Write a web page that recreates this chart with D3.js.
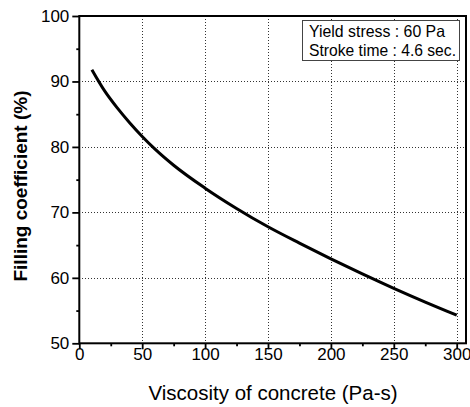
<!DOCTYPE html>
<html>
<head>
<meta charset="utf-8">
<script src="https://cdn.jsdelivr.net/npm/d3@7"></script>
<style>
  body { margin: 0; background: #fff; }
  svg { display: block; font-family: "Liberation Sans", Arial, sans-serif; }
</style>
</head>
<body>
<svg id="chart" width="470" height="407"></svg>
<script>
// Filling coefficient vs. viscosity of concrete
const viscosity = [10, 20, 30, 40, 50, 60, 75, 100, 125, 150, 175, 200, 225, 250, 275, 300];
const filling   = [91.8, 88.6, 86.0, 83.7, 81.6, 79.7, 77.2, 73.7, 70.6, 67.8, 65.3, 62.9, 60.6, 58.4, 56.3, 54.3];
const xTicks = [0, 50, 100, 150, 200, 250, 300];
const yTicks = [50, 60, 70, 80, 90, 100];
const xMinor = [25, 75, 125, 175, 225, 275];
const yMinor = [55, 65, 75, 85, 95];
const legendLines = ["Yield stress : 60 Pa", "Stroke time : 4.6 sec."];

const svg = d3.select("#chart");
const m = { left: 79.3, right: 466, top: 16, bottom: 343.3 };

const x = d3.scaleLinear().domain([0, 300]).range([m.left, 456.7]);
const y = d3.scaleLinear().domain([50, 100]).range([m.bottom, m.top]);
const px = v => Math.round(v) + 0.5;

// dotted grid
const grid = svg.append("g").attr("stroke", "#333").attr("stroke-width", 1)
  .attr("stroke-dasharray", "1,2").attr("shape-rendering", "crispEdges");
grid.selectAll("line.gx").data(xTicks.filter(d => d > 0)).join("line")
  .attr("class", "gx")
  .attr("x1", d => px(x(d))).attr("x2", d => px(x(d)))
  .attr("y1", m.top).attr("y2", m.bottom);
grid.selectAll("line.gy").data(yTicks.filter(d => d > 50 && d < 100)).join("line")
  .attr("class", "gy")
  .attr("y1", d => px(y(d))).attr("y2", d => px(y(d)))
  .attr("x1", m.left).attr("x2", m.right);

// axes with outward ticks
svg.append("g").attr("class", "xaxis").attr("transform", `translate(0,${m.bottom})`)
  .call(d3.axisBottom(x).tickValues(xTicks).tickSize(6).tickFormat(d3.format("d")));
svg.append("g").attr("transform", `translate(0,${m.bottom})`)
  .call(d3.axisBottom(x).tickValues(xMinor).tickSize(3).tickFormat(""));
svg.append("g").attr("class", "yaxis").attr("transform", `translate(${m.left},0)`)
  .call(d3.axisLeft(y).tickValues(yTicks).tickSize(7).tickPadding(3).tickFormat(d3.format("d")));
svg.append("g").attr("transform", `translate(${m.left},0)`)
  .call(d3.axisLeft(y).tickValues(yMinor).tickSize(3).tickFormat(""));

svg.selectAll(".tick line").attr("stroke", "#000").attr("stroke-width", 1.8);
svg.selectAll(".domain").remove();
svg.selectAll(".tick text").attr("fill", "#000").style("font-size", "17px");
svg.selectAll(".xaxis .tick text").attr("y", 5);

// frame
svg.append("rect")
  .attr("x", m.left).attr("y", m.top)
  .attr("width", m.right - m.left).attr("height", m.bottom - m.top)
  .attr("fill", "none").attr("stroke", "#000").attr("stroke-width", 2);

// curve
const line = d3.line().x((d, i) => x(viscosity[i])).y(d => y(d)).curve(d3.curveMonotoneX);
svg.append("path").datum(filling)
  .attr("d", line)
  .attr("fill", "none").attr("stroke", "#000").attr("stroke-width", 3);

// legend box
const lg = svg.append("g");
lg.append("rect").attr("x", 302.5).attr("y", 20.5).attr("width", 157).attr("height", 40)
  .attr("fill", "#fff").attr("stroke", "#444").attr("stroke-width", 1);
lg.selectAll("text").data(legendLines).join("text")
  .attr("x", 309).attr("y", (d, i) => 37 + i * 18.5)
  .style("font-size", "16.5px").attr("fill", "#000")
  .attr("textLength", (d, i) => i === 0 ? 136 : 147)
  .attr("lengthAdjust", "spacingAndGlyphs")
  .text(d => d);

// axis titles
svg.append("text").attr("x", 273).attr("y", 400)
  .attr("text-anchor", "middle").style("font-size", "20.5px").text("Viscosity of concrete (Pa-s)");
svg.append("text").attr("transform", `translate(27,186) rotate(-90)`)
  .attr("text-anchor", "middle").style("font-size", "19px").style("font-weight", "bold")
  .text("Filling coefficient (%)");
</script>
</body>
</html>
